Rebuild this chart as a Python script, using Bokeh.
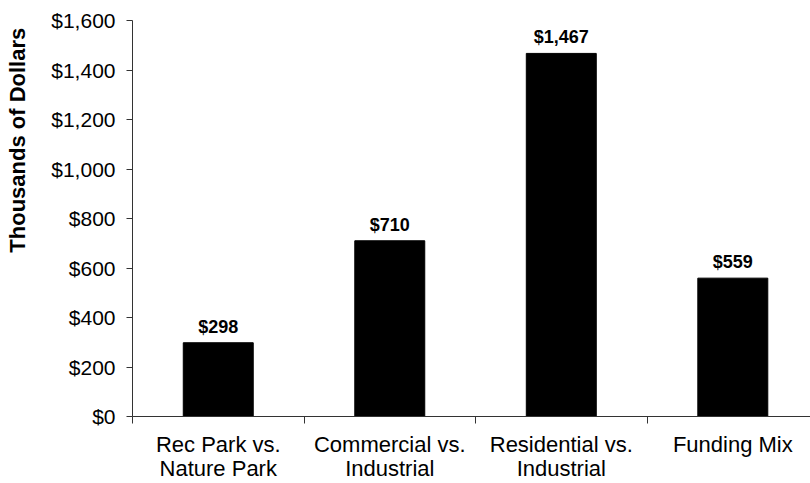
import math
from bokeh.plotting import figure
from bokeh.layouts import row
from bokeh.models import (ColumnDataSource, Range1d, FixedTicker, NumeralTickFormatter)
from bokeh.core.properties import value
from bokeh.embed import file_html
from bokeh.resources import INLINE

categories = ["Rec Park vs.\nNature Park", "Commercial vs.\nIndustrial",
              "Residential vs.\nIndustrial", "Funding Mix"]
values = [298, 710, 1467, 559]
y_ticks = [0, 200, 400, 600, 800, 1000, 1200, 1400, 1600]
y_title = "Thousands of Dollars"

FONT = "Liberation Sans"
TW = 40  # width of the strip that carries the y-axis title

xs = [i + 0.5 for i in range(len(categories))]
labels = ["${:,}".format(v) for v in values]
src = ColumnDataSource(dict(x=xs, top=values, label=labels))

p = figure(width=810 - TW, height=483, output_backend="svg", toolbar_location=None,
           x_range=Range1d(0, 3.953), y_range=Range1d(0, 1600),
           min_border_left=132 - TW, min_border_right=0, min_border_top=20, min_border_bottom=67)
p.outline_line_color = None
p.xgrid.visible = False
p.ygrid.visible = False
p.background_fill_color = "white"

p.vbar(x="x", top="top", width=0.408, bottom=0, source=src,
       fill_color="black", line_color="black")
p.text(x="x", y="top", text="label", source=src, text_align="center",
       text_baseline="bottom", y_offset=-6, text_font=value(FONT),
       text_font_size="18px", text_font_style="bold", text_color="black")

# x axis
xa = p.xaxis[0]
xa.ticker = FixedTicker(ticks=xs, minor_ticks=list(range(len(categories))))
xa.major_label_overrides = {x: c for x, c in zip(xs, categories)}
xa.major_tick_line_color = None
xa.minor_tick_line_color = "#333333"
xa.minor_tick_in = 0
xa.minor_tick_out = 7
xa.axis_line_color = "#333333"
xa.major_label_text_font = FONT
xa.major_label_text_font_size = "22px"
xa.major_label_text_color = "black"
xa.major_label_text_line_height = 0.96
xa.major_label_standoff = 8

# y axis
ya = p.yaxis[0]
ya.ticker = FixedTicker(ticks=y_ticks)
ya.formatter = NumeralTickFormatter(format="$0,0")
ya.major_tick_in = 0
ya.major_tick_out = 6
ya.minor_tick_line_color = None
ya.axis_line_color = "#333333"
ya.major_tick_line_color = "#333333"
ya.major_label_text_font = FONT
ya.major_label_text_font_size = "21px"
ya.major_label_text_color = "black"
ya.major_label_standoff = 11

# narrow strip holding the rotated y-axis title (pixel coordinates)
tf = figure(width=TW, height=483, output_backend="svg", toolbar_location=None,
            x_range=Range1d(0, TW), y_range=Range1d(0, 483),
            x_axis_location=None, y_axis_location=None, min_border=0)
tf.outline_line_color = None
tf.xgrid.visible = False
tf.ygrid.visible = False
tf.text(x=[17], y=[337], text=[y_title], angle=math.pi / 2,
        text_align="center", text_baseline="alphabetic",
        text_font=value(FONT), text_font_size="22px", text_font_style="bold",
        text_color="black")

layout = row(tf, p, spacing=0)
open("out.html", "w").write(file_html(layout, INLINE))
